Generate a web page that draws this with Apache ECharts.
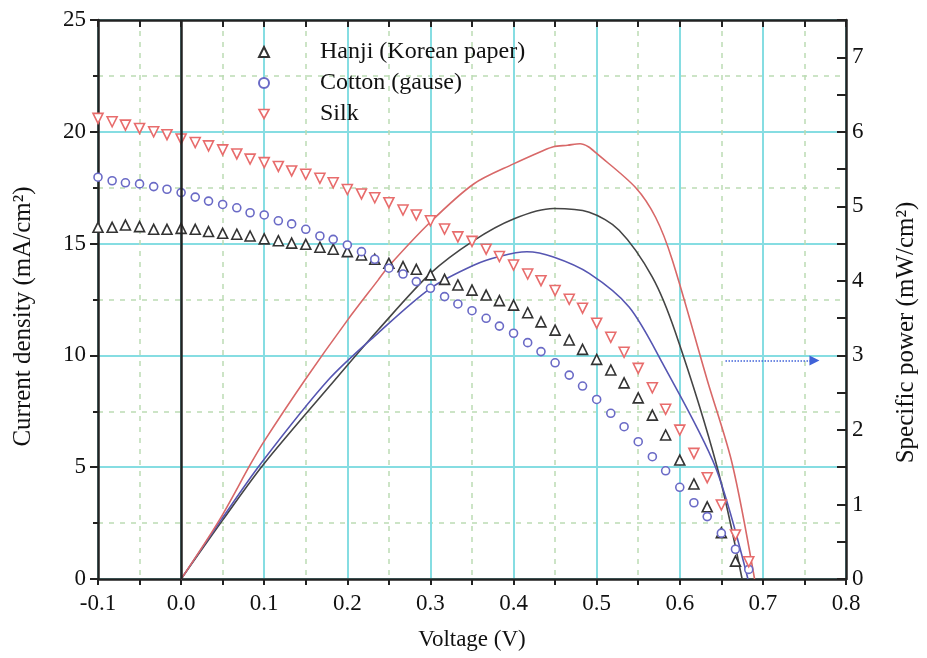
<!DOCTYPE html>
<html>
<head>
<meta charset="utf-8">
<script src="https://cdn.jsdelivr.net/npm/echarts@6/dist/echarts.min.js"></script>
<style>
html, body { margin: 0; padding: 0; background: #fff; }
#chart { width: 927px; height: 658px; }
</style>
</head>
<body>
<div id="chart"></div>
<script>
// J-V points, sampled every ~16.7 mV
const voltage = [-0.100, -0.083, -0.067, -0.050, -0.033, -0.017, 0.000, 0.017, 0.033, 0.050,
    0.067, 0.083, 0.100, 0.117, 0.133, 0.150, 0.167, 0.183, 0.200, 0.217,
    0.233, 0.250, 0.267, 0.283, 0.300, 0.317, 0.333, 0.350, 0.367, 0.383,
    0.400, 0.417, 0.433, 0.450, 0.467, 0.483, 0.500, 0.517, 0.533, 0.550,
    0.567, 0.583, 0.600, 0.617, 0.633, 0.650, 0.667, 0.683];

const hanjiJ = [15.73, 15.73, 15.83, 15.76, 15.64, 15.64, 15.68, 15.64, 15.54, 15.46,
    15.42, 15.34, 15.21, 15.13, 15.02, 14.97, 14.84, 14.75, 14.64, 14.49,
    14.30, 14.12, 13.97, 13.85, 13.60, 13.40, 13.15, 12.92, 12.70, 12.45,
    12.25, 11.91, 11.50, 11.13, 10.69, 10.27, 9.82, 9.35, 8.77, 8.10,
    7.33, 6.44, 5.32, 4.25, 3.23, 2.07, 0.80];

const cottonJ = [17.97, 17.81, 17.72, 17.67, 17.55, 17.43, 17.28, 17.08, 16.90, 16.75,
    16.60, 16.38, 16.28, 16.02, 15.88, 15.64, 15.34, 15.19, 14.94, 14.64,
    14.30, 13.90, 13.64, 13.30, 13.00, 12.63, 12.30, 12.00, 11.66, 11.31,
    10.99, 10.57, 10.17, 9.67, 9.12, 8.63, 8.03, 7.41, 6.81, 6.14,
    5.47, 4.84, 4.10, 3.41, 2.79, 2.05, 1.33, 0.43];

const silkJ = [20.60, 20.45, 20.30, 20.15, 20.00, 19.87, 19.68, 19.52, 19.37, 19.19,
    19.01, 18.78, 18.62, 18.45, 18.25, 18.10, 17.92, 17.72, 17.42, 17.22,
    17.05, 16.83, 16.50, 16.28, 16.02, 15.65, 15.30, 15.10, 14.75, 14.42,
    14.04, 13.64, 13.34, 12.90, 12.51, 12.11, 11.44, 10.81, 10.14, 9.42,
    8.55, 7.59, 6.66, 5.62, 4.53, 3.31, 1.97, 0.77];

// power curves (right axis)
const hanjiPV = [0, 0.05, 0.10, 0.185, 0.237, 0.30, 0.352, 0.40, 0.448, 0.491, 0.527, 0.567, 0.595, 0.645, 0.675];
const hanjiP = [0, 0.79, 1.55, 2.67, 3.34, 4.10, 4.54, 4.83, 4.97, 4.92, 4.68, 4.05, 3.30, 1.50, 0];

const cottonPV = [0, 0.048, 0.096, 0.177, 0.237, 0.30, 0.352, 0.384, 0.416, 0.448, 0.491, 0.539, 0.579, 0.643, 0.682];
const cottonP = [0, 0.79, 1.55, 2.67, 3.30, 3.90, 4.21, 4.33, 4.39, 4.32, 4.10, 3.65, 2.90, 1.50, 0];

const silkPV = [0, 0.046, 0.084, 0.10, 0.149, 0.20, 0.237, 0.25, 0.30, 0.352, 0.40, 0.436, 0.448, 0.465, 0.48, 0.49, 0.50, 0.547, 0.571, 0.591, 0.633, 0.663, 0.69];
const silkP = [0, 0.79, 1.55, 1.85, 2.67, 3.47, 4.01, 4.20, 4.79, 5.30, 5.57, 5.75, 5.80, 5.82, 5.84, 5.80, 5.71, 5.25, 4.85, 4.28, 2.67, 1.55, 0];

const seriesNames = ['Hanji (Korean paper)', 'Cotton (gause)', 'Silk'];
const arrowStart = [0.655, 2.93];
const arrowEnd = [0.762, 2.93];

const FONT = 'Liberation Serif, Times New Roman, serif';
const CYAN = '#86dde2';
const GREEN = '#bcdcb4';
const INK = '#222';
const DOWN_TRIANGLE = 'path://M0,0L10,0L5,9Z';

function pairs(xs, ys) {
    return ys.map((y, i) => [xs[i], y]);
}

const chart = echarts.init(document.getElementById('chart'), null, { renderer: 'canvas' });

const axisFont = { fontFamily: FONT, fontSize: 23, color: '#111' };

const option = {
    backgroundColor: '#ffffff',
    animation: false,
    grid: { left: 98, right: 75, top: 20, bottom: 79 },
    legend: {
        orient: 'vertical',
        left: 253,
        top: 35,
        itemWidth: 10,
        itemHeight: 10,
        itemGap: 7,
        selectedMode: false,
        data: [
            { name: seriesNames[0] },
            { name: seriesNames[1] },
            { name: seriesNames[2], icon: DOWN_TRIANGLE,
              itemStyle: { color: '#ffffff', borderColor: '#e86c6c', borderWidth: 1.6 } }
        ],
        textStyle: { fontFamily: FONT, fontSize: 24, color: '#111', lineHeight: 24, padding: [0, 0, 0, 46] }
    },
    xAxis: [{
        type: 'value',
        position: 'bottom',
        min: -0.1,
        max: 0.8,
        interval: 0.1,
        name: 'Voltage (V)',
        nameLocation: 'middle',
        nameGap: 49,
        nameTextStyle: axisFont,
        axisLine: { onZero: false, lineStyle: { color: INK, width: 2.5 } },
        axisTick: { inside: false, length: 6, lineStyle: { color: INK, width: 2 } },
        minorTick: { show: true, splitNumber: 2, length: 6, lineStyle: { color: INK, width: 2 } },
        axisLabel: Object.assign({ margin: 13, formatter: v => v.toFixed(1) }, axisFont),
        splitLine: { show: true, lineStyle: { color: CYAN, width: 2 } },
        minorSplitLine: { show: true, lineStyle: { color: GREEN, width: 1.5, type: [5, 6] } }
    }, {
        type: 'value',
        position: 'top',
        min: -0.1,
        max: 0.8,
        interval: 0.1,
        axisLine: { onZero: false, lineStyle: { color: INK, width: 2.5 } },
        axisTick: { inside: true, length: 7, lineStyle: { color: INK, width: 2 } },
        minorTick: { show: true, splitNumber: 2, length: 7, lineStyle: { color: INK, width: 2 } },
        axisLabel: { show: false },
        splitLine: { show: false }
    }],
    yAxis: [{
        type: 'value',
        position: 'left',
        min: 0,
        max: 25,
        interval: 5,
        name: 'Current density (mA/cm²)',
        nameLocation: 'middle',
        nameGap: 62,
        nameTextStyle: { fontFamily: FONT, fontSize: 25, color: '#111', padding: [0, 34, 0, 0] },
        axisLine: { show: true, onZero: false, lineStyle: { color: INK, width: 2.5 } },
        axisTick: { show: true, inside: false, length: 8, lineStyle: { color: INK, width: 2 } },
        minorTick: { show: true, splitNumber: 2, length: 5, lineStyle: { color: INK, width: 2 } },
        axisLabel: Object.assign({ margin: 12 }, axisFont),
        splitLine: { show: true, lineStyle: { color: CYAN, width: 2 } },
        minorSplitLine: { show: true, lineStyle: { color: GREEN, width: 1.5, type: [5, 6] } }
    }, {
        type: 'value',
        position: 'right',
        min: 0,
        max: 7.5,
        interval: 0.5,
        name: 'Specific power (mW/cm²)',
        nameLocation: 'middle',
        nameGap: 48,
        nameTextStyle: { fontFamily: FONT, fontSize: 25, color: '#111', padding: [0, 66, 0, 0] },
        axisLine: { show: true, onZero: false, lineStyle: { color: INK, width: 2.5 } },
        axisTick: { show: true, inside: true, length: 9, lineStyle: { color: INK, width: 2 } },
        axisLabel: Object.assign({ margin: 6, formatter: v => Number.isInteger(v) ? String(v) : '' }, axisFont),
        splitLine: { show: false }
    }],
    series: [{
        name: seriesNames[0],
        type: 'scatter',
        symbol: 'triangle',
        symbolSize: 10,
        itemStyle: { color: '#ffffff', borderColor: '#333', borderWidth: 1.6, opacity: 1 },
        data: pairs(voltage, hanjiJ),
        z: 4,
        markLine: {
            silent: true,
            symbol: 'none',
            label: { show: false },
            lineStyle: { color: INK, width: 2.5, type: 'solid' },
            data: [{ xAxis: 0 }]
        }
    }, {
        name: seriesNames[1],
        type: 'scatter',
        symbol: 'circle',
        symbolSize: 8,
        itemStyle: { color: '#ffffff', borderColor: '#6a6ac6', borderWidth: 1.6, opacity: 1 },
        data: pairs(voltage, cottonJ),
        z: 4
    }, {
        name: seriesNames[2],
        type: 'scatter',
        symbol: 'triangle',
        symbolRotate: 180,
        symbolSize: 10,
        itemStyle: { color: '#ffffff', borderColor: '#e86c6c', borderWidth: 1.6, opacity: 1 },
        data: pairs(voltage, silkJ),
        z: 4
    }, {
        type: 'line',
        yAxisIndex: 1,
        showSymbol: false,
        smooth: 0.3,
        lineStyle: { color: '#454545', width: 1.6 },
        data: pairs(hanjiPV, hanjiP),
        z: 3
    }, {
        type: 'line',
        yAxisIndex: 1,
        showSymbol: false,
        smooth: 0.3,
        lineStyle: { color: '#5656b2', width: 1.6 },
        data: pairs(cottonPV, cottonP),
        z: 3
    }, {
        type: 'line',
        yAxisIndex: 1,
        showSymbol: false,
        smooth: 0.3,
        lineStyle: { color: '#d86868', width: 1.6 },
        data: pairs(silkPV, silkP),
        z: 3,
        markLine: {
            silent: true,
            symbol: ['none', 'triangle'],
            symbolSize: 10,
            label: { show: false },
            itemStyle: { color: '#1f3fc8' },
            lineStyle: { color: '#3f62d8', width: 1.5, type: 'dotted' },
            data: [[{ coord: arrowStart }, { coord: arrowEnd }]]
        }
    }]
};

chart.setOption(option);
</script>
</body>
</html>
